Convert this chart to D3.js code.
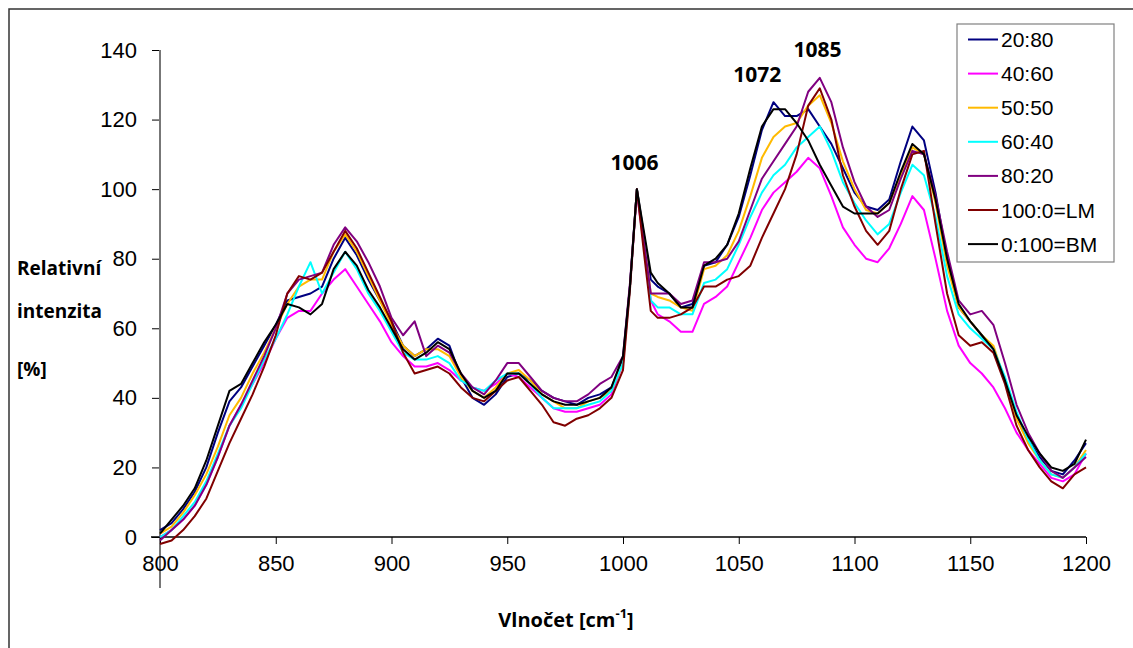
<!DOCTYPE html>
<html>
<head>
<meta charset="utf-8">
<script src="https://cdn.jsdelivr.net/npm/d3@7"></script>
<style>
  body { margin: 0; background: #fff; }
  svg { display: block; }
  .tick text { font-family: "Liberation Sans", Arial, sans-serif; fill: #000; }
</style>
</head>
<body>
<div id="chart"></div>
<script>
// wavenumbers (cm-1) shared by all series
var wn = [800,805,810,815,820,825,830,835,840,845,850,855,860,865,870,875,880,885,890,895,
          900,905,910,915,920,925,930,935,940,945,950,955,960,965,970,975,980,985,990,995,1000,
          1003,1006,1009,1012,1015,
          1020,1025,1030,1035,1040,1045,1050,1055,1060,1065,1070,1075,1080,1085,1090,1095,
          1100,1105,1110,1115,1120,1125,1130,1135,1140,1145,1150,1155,1160,1165,1170,1175,
          1180,1185,1190,1195,1200];

var names = ["20:80", "40:60", "50:50", "60:40", "80:20", "100:0=LM", "0:100=BM"];
var colors = ["#000080", "#ff00ff", "#ffba00", "#00ffff", "#800080", "#800000", "#000000"];

var s2080 = [2,4,8,13,20,30,39,43,49,55,61,68,69,70,72,80,86,81,74,68,
             62,55,52,54,57,55,46,40,38,41,46,47,45,42,40,39,38,40,41,43,51,
             72,100,87,74,72,
             70,66,67,78,79,84,92,104,117,125,121,121,123,118,113,106,
             99,95,94,97,108,118,114,99,80,66,62,58,54,45,35,28,
             23,19,18,22,27];
var s4060 = [0,2,5,9,15,23,32,38,44,50,57,63,65,65,70,74,77,72,67,62,
             56,52,49,49,50,48,45,43,42,44,47,46,43,40,37,36,36,37,38,41,50,
             72,99,84,68,64,
             62,59,59,67,69,72,79,86,94,99,102,105,109,106,98,89,
             84,80,79,83,90,98,94,80,65,55,50,47,43,37,30,25,
             21,17,16,18,24];
var s5050 = [1,3,7,12,18,26,35,40,47,53,60,67,72,74,74,82,87,82,75,68,
             61,55,52,54,54,52,46,42,40,43,47,48,45,41,39,37,37,39,40,42,50,
             72,100,86,70,69,
             68,66,65,77,78,81,88,98,109,115,118,119,124,127,119,108,
             100,94,93,96,104,112,110,96,78,66,62,58,55,45,34,27,
             22,18,17,20,25];
var s6040 = [0,2,6,10,16,24,32,37,44,51,57,64,72,79,70,76,82,77,70,65,
             59,53,51,51,52,50,45,43,42,45,47,47,44,40,37,37,37,38,39,42,50,
             72,100,85,68,66,
             66,64,64,73,74,77,84,92,99,104,107,112,115,118,111,102,
             96,91,87,90,99,107,104,92,75,64,60,57,54,46,36,28,
             22,18,17,20,24];
var s8020 = [-1,2,5,9,15,23,32,38,45,52,60,70,74,75,76,84,89,85,79,72,
             63,58,62,52,55,53,47,43,41,45,50,50,46,42,40,39,39,41,44,46,52,
             73,100,85,70,70,
             70,67,68,79,79,80,85,94,103,108,113,118,128,132,125,112,
             102,95,92,94,103,111,110,98,82,68,64,65,61,50,38,30,
             24,19,17,20,23];
var s1000 = [-2,-1,2,6,11,19,27,34,41,49,58,70,75,74,76,82,88,83,76,69,
             62,53,47,48,49,47,43,40,39,42,45,46,42,38,33,32,34,35,37,40,48,
             71,100,82,65,63,
             63,64,66,72,72,74,75,78,86,93,100,110,124,129,120,104,
             95,88,84,88,100,110,111,90,70,58,55,56,53,44,32,25,
             20,16,14,18,20];
var s0100 = [1,5,9,14,22,32,42,44,50,56,61,67,66,64,67,77,82,78,71,66,
             60,54,51,53,56,54,47,42,40,42,47,47,44,41,39,38,38,39,40,43,52,
             72,100,88,76,73,
             70,66,66,78,80,84,93,106,118,123,123,119,114,107,101,95,
             93,93,93,96,105,113,110,97,80,67,62,58,54,45,35,29,
             24,20,19,21,28];
var seriesValues = [s2080, s4060, s5050, s6040, s8020, s1000, s0100];

var xTicks = [800, 850, 900, 950, 1000, 1050, 1100, 1150, 1200];
var yTicks = [0, 20, 40, 60, 80, 100, 120, 140];

var peakLabels = ["1006", "1072", "1085"];
var peakPos = [[1005, 105.5], [1058, 130.8], [1084, 138]];

function init()
{
  var w = 1133;
  var h = 648;

  var svg = d3.select("#chart")
              .append("svg")
              .attr("width", w)
              .attr("height", h);

  // outer frame
  svg.append("rect")
     .attr("x", 9).attr("y", 9)
     .attr("width", w + 20).attr("height", h + 20)
     .attr("fill", "none")
     .attr("stroke", "#333")
     .attr("stroke-width", 1.5);

  var x = d3.scaleLinear().domain([800, 1200]).range([160, 1086]);
  var y = d3.scaleLinear().domain([0, 140]).range([537, 50]);

  // y axis
  var yAxis = svg.append("g")
     .attr("transform", "translate(160,0)")
     .call(d3.axisLeft(y).tickValues(yTicks).tickSize(8).tickPadding(15));
  yAxis.select(".domain").remove();
  yAxis.selectAll(".tick line").attr("stroke", "#000");
  yAxis.selectAll(".tick text").style("font-size", "22px");
  svg.append("line")
     .attr("x1", 160).attr("x2", 160)
     .attr("y1", 50).attr("y2", 588)
     .attr("stroke", "#777")
     .attr("stroke-width", 2);

  // x axis
  var xAxis = svg.append("g")
     .attr("transform", "translate(0,537)")
     .call(d3.axisBottom(x).tickValues(xTicks).tickFormat(d3.format("d"))
           .tickSizeInner(7).tickSizeOuter(0).tickPadding(11));
  xAxis.select(".domain").remove();
  xAxis.selectAll(".tick text").style("font-size", "22px");
  svg.append("line")
     .attr("x1", 151).attr("x2", 1086)
     .attr("y1", 537).attr("y2", 537)
     .attr("stroke", "#000")
     .attr("stroke-width", 1.5);

  // series
  var line = d3.line()
     .x(function(d, i){ return x(wn[i]); })
     .y(function(d){ return y(d); });

  svg.selectAll("path.series")
     .data(seriesValues)
     .enter()
     .append("path")
     .attr("class", "series")
     .attr("d", line)
     .attr("fill", "none")
     .attr("stroke", function(d, i){ return colors[i]; })
     .attr("stroke-width", 2)
     .attr("stroke-linejoin", "round");

  // peak labels
  svg.selectAll("text.peak")
     .data(peakLabels)
     .enter()
     .append("text")
     .attr("class", "peak")
     .text(function(d){ return d; })
     .attr("x", function(d, i){ return x(peakPos[i][0]); })
     .attr("y", function(d, i){ return y(peakPos[i][1]); })
     .attr("text-anchor", "middle")
     .style("font-family", "'Open Sans', sans-serif")
     .style("font-weight", "700")
     .style("font-size", "21px");

  // legend
  var legend = svg.append("g");
  legend.append("rect")
     .attr("x", 957).attr("y", 24)
     .attr("width", 157).attr("height", 238)
     .attr("fill", "#fff")
     .attr("stroke", "#808080")
     .attr("stroke-width", 1.2);
  var items = legend.selectAll("g.item")
     .data(names)
     .enter()
     .append("g")
     .attr("transform", function(d, i){ return "translate(0," + (39.5 + i * 34.1) + ")"; });
  items.append("line")
     .attr("x1", 968).attr("x2", 998)
     .attr("stroke", function(d, i){ return colors[i]; })
     .attr("stroke-width", 2);
  items.append("text")
     .text(function(d){ return d; })
     .attr("x", 1001)
     .attr("dy", "0.36em")
     .style("font-family", "'Liberation Sans', Arial, sans-serif")
     .style("font-size", "21px");

  // axis titles
  var tf = "'Open Sans', sans-serif";
  var xt = svg.append("text")
     .attr("x", 566).attr("y", 627)
     .attr("text-anchor", "middle")
     .style("font-family", tf).style("font-weight", "700").style("font-size", "20px");
  xt.append("tspan").text("Vlnočet [cm");
  xt.append("tspan").text("-1").attr("dy", -9).style("font-size", "13px");
  xt.append("tspan").text("]").attr("dy", 9);

  var ylab = ["Relativní", "intenzita", "[%]"];
  var ylabY = [275, 318, 376];
  svg.selectAll("text.ytitle")
     .data(ylab)
     .enter()
     .append("text")
     .attr("class", "ytitle")
     .text(function(d){ return d; })
     .attr("x", 17)
     .attr("y", function(d, i){ return ylabY[i]; })
     .style("font-family", tf).style("font-weight", "700").style("font-size", "19px");
}

window.onload = init;
</script>
</body>
</html>
